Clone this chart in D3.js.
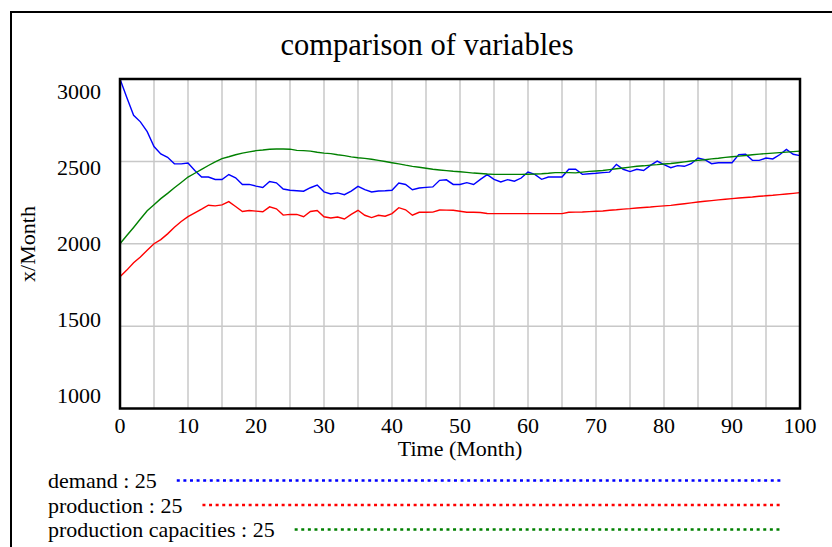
<!DOCTYPE html>
<html>
<head>
<meta charset="utf-8">
<script src="https://cdn.jsdelivr.net/npm/d3@7"></script>
<style>
  html, body { margin: 0; padding: 0; background: #fff; }
  svg text { font-family: "Liberation Serif", "Times New Roman", serif; fill: #000; }
</style>
</head>
<body>
<div id="chart"></div>
<script>
(function(){
var width = 832,
    height = 547;

// months 0..100
var months = d3.range(0, 101);

var demand = [
  3000, 2888, 2780, 2740, 2680, 2590, 2545, 2525, 2485, 2485,
  2490, 2445, 2405, 2405, 2390, 2390, 2420, 2400, 2360, 2360,
  2350, 2342, 2378, 2370, 2332, 2325, 2322, 2319, 2340, 2356,
  2315, 2302, 2309, 2298, 2320, 2348, 2328, 2314, 2320, 2322,
  2325, 2368, 2360, 2328, 2338, 2342, 2345, 2385, 2388, 2360,
  2360, 2371, 2360, 2391, 2420, 2391, 2375, 2389, 2380, 2399,
  2435, 2421, 2391, 2405, 2405, 2405, 2452, 2452, 2421, 2425,
  2428, 2432, 2435, 2482, 2452, 2438, 2452, 2445, 2476, 2502,
  2480, 2462, 2474, 2470, 2486, 2520, 2510, 2486, 2492, 2492,
  2492, 2541, 2543, 2506, 2506, 2520, 2515, 2540, 2573, 2543,
  2535
];

var production = [
  1800, 1840, 1885, 1920, 1960, 2000, 2025, 2060, 2100, 2135,
  2165, 2188, 2210, 2234, 2230, 2236, 2256, 2226, 2196, 2202,
  2198, 2194, 2224, 2212, 2174, 2178, 2178, 2164, 2196, 2202,
  2164, 2156, 2162, 2150, 2178, 2203, 2173, 2159, 2173, 2167,
  2183, 2219, 2206, 2173, 2191, 2191, 2192, 2205, 2204, 2203,
  2197, 2191, 2191, 2190, 2184, 2183, 2183, 2183, 2183, 2183,
  2183, 2183, 2183, 2183, 2183, 2183, 2191, 2192, 2193, 2195,
  2197, 2199, 2203, 2206, 2210, 2213, 2217, 2220, 2223, 2227,
  2230, 2233, 2238, 2243, 2248, 2253, 2258, 2262, 2266, 2270,
  2274, 2278, 2281, 2284, 2288, 2291, 2294, 2298, 2302, 2306,
  2310
];

var capacities = [
  2000, 2050, 2099, 2150, 2200, 2237, 2274, 2306, 2340, 2372,
  2405, 2428, 2452, 2475, 2497, 2517, 2528, 2540, 2550, 2558,
  2565, 2569, 2574, 2575, 2575, 2574, 2567, 2565, 2562, 2555,
  2550, 2547, 2540, 2535, 2527, 2522, 2518, 2513, 2506, 2499,
  2492, 2485, 2477, 2470, 2464, 2458, 2452, 2448, 2444, 2440,
  2437, 2433, 2429, 2426, 2423, 2421, 2421, 2421, 2421, 2421,
  2422, 2423, 2425, 2428, 2432, 2432, 2432, 2430, 2435, 2439,
  2442, 2445, 2450, 2455, 2460, 2465, 2470, 2473, 2477, 2480,
  2484, 2487, 2492, 2497, 2502, 2506, 2510, 2515, 2519, 2524,
  2528, 2532, 2536, 2540, 2544, 2547, 2550, 2553, 2556, 2559,
  2562
];

var xTicks = [0, 10, 20, 30, 40, 50, 60, 70, 80, 90, 100];
var yTicks = [3000, 2500, 2000, 1500, 1000];
var xGrid = d3.range(5, 100, 5);
var yGrid = [2500, 2000, 1500];

var seriesNames = ["demand : 25", "production : 25", "production capacities : 25"];
var seriesColors = ["#0000ff", "#ff0000", "#008000"];
var seriesData = [demand, production, capacities];

var plot = { left: 120, right: 800, top: 79, bottom: 408.5 };

var svg = d3.select("#chart").append("svg")
  .attr("width", width)
  .attr("height", height);

var x = d3.scaleLinear().domain([0, 100]).range([plot.left, plot.right]);
var y = d3.scaleLinear().domain([1000, 3000]).range([plot.bottom, plot.top]);
// vensim spreads the y labels evenly inside the frame
var yLabel = d3.scaleLinear().domain([3000, 1000]).range([99, 403]);

// outer frame (top + left)
svg.append("path")
  .attr("d", "M11,547 L11,12 L832,12")
  .attr("fill", "none")
  .attr("stroke", "#000")
  .attr("stroke-width", 2);

svg.append("text")
  .attr("x", 427)
  .attr("y", 55)
  .attr("text-anchor", "middle")
  .style("font-size", "30.5px")
  .text("comparison of variables");

// grid
svg.append("g").selectAll("line")
  .data(xGrid)
  .enter().append("line")
  .attr("x1", d => x(d)).attr("x2", d => x(d))
  .attr("y1", plot.top).attr("y2", plot.bottom)
  .attr("stroke", "#c8c8c8")
  .attr("stroke-width", 1.5);

svg.append("g").selectAll("line")
  .data(yGrid)
  .enter().append("line")
  .attr("x1", plot.left).attr("x2", plot.right)
  .attr("y1", d => y(d)).attr("y2", d => y(d))
  .attr("stroke", "#c8c8c8")
  .attr("stroke-width", 1.5);

// lines
var line = d3.line()
  .x((d, i) => x(months[i]))
  .y(d => y(d));

svg.append("g").selectAll("path")
  .data(seriesData)
  .enter().append("path")
  .attr("d", line)
  .attr("fill", "none")
  .attr("stroke", (d, i) => seriesColors[i])
  .attr("stroke-width", 1.4);

// frame of plot area
svg.append("rect")
  .attr("x", plot.left).attr("y", plot.top)
  .attr("width", plot.right - plot.left)
  .attr("height", plot.bottom - plot.top)
  .attr("fill", "none")
  .attr("stroke", "#000")
  .attr("stroke-width", 2.5);

// tick labels
svg.append("g").selectAll("text")
  .data(xTicks)
  .enter().append("text")
  .attr("x", d => x(d))
  .attr("y", 433)
  .attr("text-anchor", "middle")
  .style("font-size", "22px")
  .text(d => d);

svg.append("g").selectAll("text")
  .data(yTicks)
  .enter().append("text")
  .attr("x", 101)
  .attr("y", d => yLabel(d))
  .attr("text-anchor", "end")
  .style("font-size", "22px")
  .text(d => d);

svg.append("text")
  .attr("x", 460)
  .attr("y", 456)
  .attr("text-anchor", "middle")
  .style("font-size", "22px")
  .text("Time (Month)");

svg.append("text")
  .attr("transform", "translate(35,244) rotate(-90)")
  .attr("text-anchor", "middle")
  .style("font-size", "22px")
  .text("x/Month");

// legend
var legend = svg.append("g").selectAll("g")
  .data(seriesNames)
  .enter().append("g")
  .attr("transform", (d, i) => "translate(48," + (488 + i * 24.5) + ")");

legend.append("text")
  .style("font-size", "22px")
  .text(d => d);

legend.each(function(d, i) {
  var g = d3.select(this);
  var w = g.select("text").node().getComputedTextLength();
  g.append("line")
    .attr("x1", w + 20)
    .attr("x2", 734)
    .attr("y1", -7.5)
    .attr("y2", -7.5)
    .attr("stroke", seriesColors[i])
    .attr("stroke-width", 2.5)
    .attr("stroke-dasharray", "3,3.6");
});

})()
</script>
</body>
</html>
